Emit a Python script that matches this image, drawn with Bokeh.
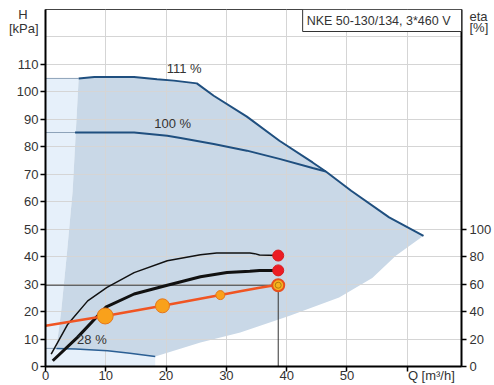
from bokeh.plotting import figure
from bokeh.models import Range1d, LinearAxis, FixedTicker, Label, ColumnDataSource
from bokeh.embed import file_html
from bokeh.resources import INLINE

# ---------------- data ----------------
# pump curves H [kPa] vs Q [m3/h]
q_111 = [5.5, 8.1, 14.7, 18.5, 21.3, 25.1, 27.9, 33.4, 38.8, 44.3, 46.5, 50.7, 57.0, 62.7]
h_111 = [104.9, 105.4, 105.4, 104.6, 104.1, 103.1, 98.6, 91.0, 82.2, 74.3, 71.0, 64.0, 54.3, 47.6]
q_100 = [4.9, 14.7, 20.2, 22.4, 27.9, 33.4, 38.8, 44.3, 46.5]
h_100 = [85.2, 85.2, 84.0, 83.2, 81.0, 78.6, 75.6, 72.3, 71.0]
q_28 = [1.8, 5.0, 10.3, 14.0, 18.2]
h_28 = [6.6, 6.4, 5.7, 4.8, 3.6]
# left (min-flow) edge and lower edge of the operating range
q_left = [5.5, 4.5, 3.5, 2.6, 1.8]
h_left = [104.9, 63.8, 40.0, 20.0, 6.6]
q_low = [18.2, 25.7, 32.3, 40.5, 48.7, 54.2, 58.1, 62.7]
h_low = [3.6, 8.7, 12.4, 18.5, 25.1, 32.2, 40.3, 47.6]
# efficiency curves eta [%]
q_eta_a = [0.94, 3.7, 7.0, 10.2, 14.7, 20.2, 25.7, 28.4, 33.9, 34.7, 35.5, 38.6]
eta_a = [9.0, 30.8, 47.8, 57.6, 68.4, 77.0, 81.4, 82.6, 82.6, 82.2, 81.2, 80.8]
q_eta_b = [1.2, 5.3, 10.0, 14.7, 20.2, 25.7, 30.1, 33.9, 35.5, 38.6]
eta_b = [4.2, 21.2, 43.2, 52.8, 59.2, 65.4, 68.4, 69.4, 70.0, 70.0]
# system curve
q_sys = [0.0, 9.9, 19.4, 29.0, 32.3, 35.5, 37.5, 38.6]
h_sys = [14.8, 18.4, 22.1, 26.0, 27.4, 28.7, 29.4, 29.6]
q_pts = [9.9, 19.4, 29.0]
h_pts = [18.4, 22.1, 26.0]
q_duty = 38.6
h_duty = 29.6
eta_duty = [80.8, 70.0]
curve_labels = ["111 %", "100 %", "28 %"]
curve_label_q = [23.0, 21.1, 7.7]
curve_label_h = [108.6, 88.5, 10.0]
x_ticks = [0, 10, 20, 30, 40, 50, 60]
y_ticks = [0, 10, 20, 30, 40, 50, 60, 70, 80, 90, 100, 110]
eta_ticks = [0, 20, 40, 60, 80, 100]
title_text = "NKE 50-130/134, 3*460 V"
q_unit = "Q [m³/h]"
h_unit = ["H", "[kPa]"]
eta_unit = ["eta", "[%]"]

FONT = "Liberation Sans"
TXT = "#333333"
Q_MAX, H_MAX, ETA_MAX = 69, 130, 260

p = figure(width=494, height=385, output_backend="svg", toolbar_location=None,
           x_range=Range1d(0, Q_MAX), y_range=Range1d(0, H_MAX),
           min_border_left=45, min_border_right=31, min_border_top=9, min_border_bottom=19)
p.extra_y_ranges = {"eta": Range1d(0, ETA_MAX)}
p.outline_line_color = "#444444"
p.outline_line_width = 1
p.background_fill_color = "white"
p.border_fill_color = "white"

# fills (drawn below the grid)
light_q = [0, 0] + q_left + q_28 + [q_28[-1]]
light_h = [0, h_left[0]] + h_left + h_28 + [0]
p.patch(light_q, light_h, fill_color="#e6f0fa", line_color=None, level="image")
gray_q = q_111 + q_low[::-1] + q_28[::-1] + q_left[::-1]
gray_h = h_111 + h_low[::-1] + h_28[::-1] + h_left[::-1]
p.patch(gray_q, gray_h, fill_color="#c9d8e7", line_color=None, level="image")

# grid
p.xgrid.ticker = FixedTicker(ticks=[10, 20, 30, 40, 50, 60])
p.ygrid.ticker = FixedTicker(ticks=list(range(10, 130, 10)))
for g in (p.xgrid, p.ygrid):
    g.grid_line_color = "#d5d5d5"
    g.grid_line_width = 1

# thin extensions at low flow
p.line([0, q_111[0]], [h_111[0], h_111[0]], line_color="#8da2b8", line_width=1)
p.line([0, q_100[0]], [h_100[0], h_100[0]], line_color="#8da2b8", line_width=1)
p.line([0, q_28[0]], [h_28[0], h_28[0]], line_color="#8da2b8", line_width=1)

# pump curves
p.line(q_111, h_111, line_color="#1f4f7f", line_width=2)
p.line(q_100, h_100, line_color="#1f4f7f", line_width=2)
p.line(q_28, h_28, line_color="#2b5f94", line_width=1.5)

# duty point guide lines
p.line([0, q_duty], [h_duty, h_duty], line_color="#333333", line_width=1)
p.line([q_duty, q_duty], [0, h_duty], line_color="#333333", line_width=1)

# efficiency curves
p.line(q_eta_a, eta_a, y_range_name="eta", line_color="#111111", line_width=1.5)
p.line(q_eta_b, eta_b, y_range_name="eta", line_color="#111111", line_width=3)

# system curve
p.line(q_sys, h_sys, line_color="#f05523", line_width=2.5)
pts = ColumnDataSource(dict(q=q_pts, h=h_pts, s=[16, 14, 9]))
p.scatter("q", "h", size="s", source=pts, fill_color="#f9a11b", line_color="#e5761a", line_width=1)

# end points
p.scatter([q_duty, q_duty], eta_duty, y_range_name="eta", size=11,
          fill_color="#ec1c24", line_color="#d81e1e")
p.scatter([q_duty], [h_duty], size=12, fill_color="#f7b21e", line_color="#e8501e", line_width=2)
p.scatter([q_duty], [h_duty], size=6, fill_color=None, line_color="#b07a10", line_width=1)


def style_axis(ax, standoff):
    # tick marks come from the minor ticks; major ticks carry the labels only
    ax.axis_label = None
    ax.axis_line_color = "black"
    ax.axis_line_width = 2
    ax.major_tick_line_color = None
    ax.major_tick_in = 0
    ax.major_tick_out = 0
    ax.minor_tick_line_color = "black"
    ax.minor_tick_line_width = 1.5
    ax.minor_tick_in = 0
    ax.minor_tick_out = 5
    ax.major_label_text_font = FONT
    ax.major_label_text_font_size = "13px"
    ax.major_label_text_color = TXT
    ax.major_label_standoff = standoff


# bottom axis: numbers 0..50, unit text centred right of the 60 tick
xa = p.xaxis[0]
xa.ticker = FixedTicker(ticks=x_ticks[:-1] + [64], minor_ticks=x_ticks)
xa.major_label_overrides = {64: q_unit}
style_axis(xa, -4)

# left axis: numbers 0..110, unit text at the top
ya = p.yaxis[0]
ya.ticker = FixedTicker(ticks=y_ticks + [123, 128], minor_ticks=y_ticks)
ya.major_label_overrides = {128: h_unit[0] + "\u00a0\u00a0\u00a0", 123: h_unit[1]}
style_axis(ya, 2)

# right axis: efficiency
ra = LinearAxis(y_range_name="eta",
                ticker=FixedTicker(ticks=eta_ticks + [247, 255], minor_ticks=eta_ticks),
                major_label_overrides={255: eta_unit[0], 247: eta_unit[1]})
style_axis(ra, 3)
p.add_layout(ra, "right")

# texts
for t, q, h in zip(curve_labels, curve_label_q, curve_label_h):
    p.add_layout(Label(x=q, y=h, text=t, text_align="center", text_baseline="middle",
                       text_font=FONT, text_font_size="13px", text_color=TXT))

p.add_layout(Label(x=Q_MAX, y=H_MAX, text=title_text, text_align="right", text_baseline="top",
                   text_font=FONT, text_font_size="12.5px", text_color=TXT,
                   border_line_color="#333333", border_line_width=1,
                   background_fill_color="white",
                   padding=dict(left=4, right=11, top=4, bottom=4)))

open("out.html", "w").write(file_html(p, INLINE))
